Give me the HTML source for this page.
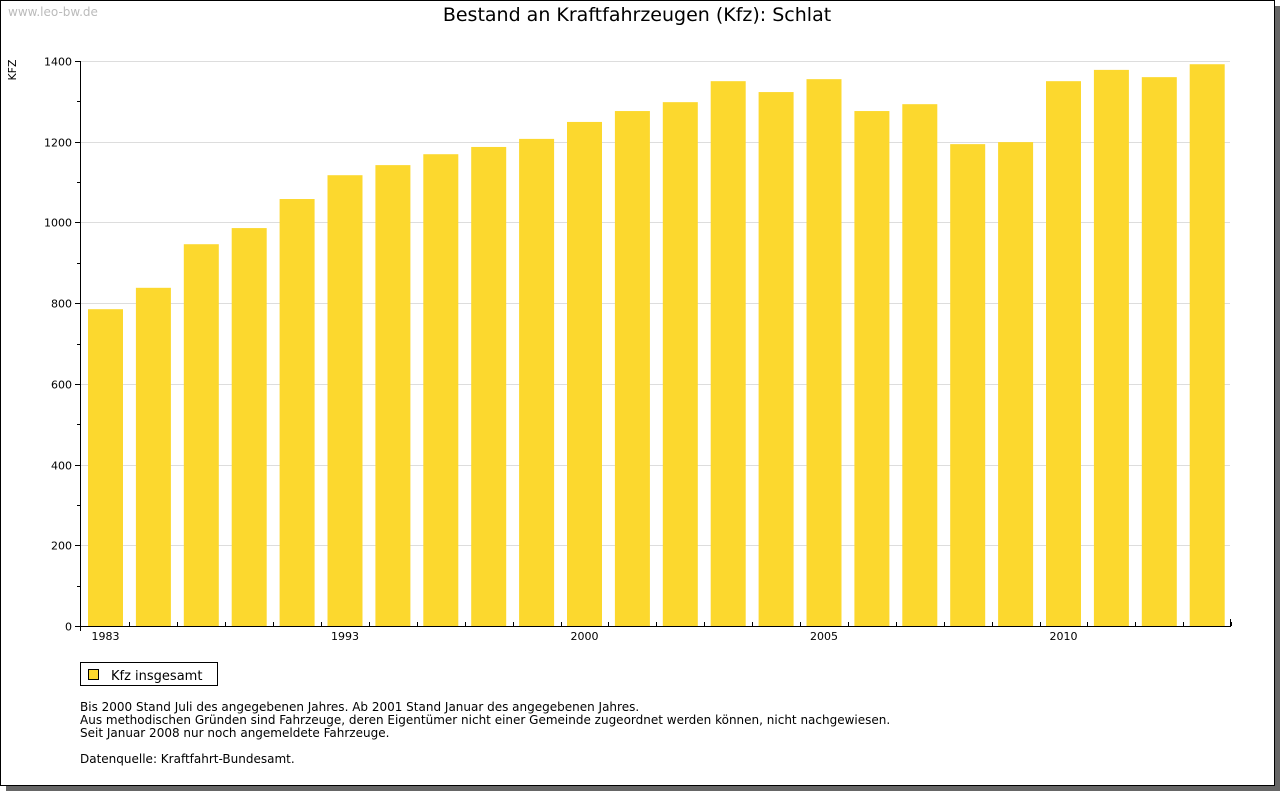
<!DOCTYPE html>
<html><head><meta charset="utf-8"><style>
body{margin:0;background:#fff;font-family:"DejaVu Sans","Liberation Sans",sans-serif;}
#wrap{position:relative;width:1280px;height:791px;overflow:hidden;}
#shadow{position:absolute;left:6px;top:6px;width:1274px;height:785px;background:#666;}
#frame{position:absolute;left:0;top:0;width:1273px;height:784px;background:#fff;border:1px solid #000;}
</style></head><body>
<div id="wrap">
<div id="shadow"></div>
<div id="frame"></div>
<svg id="chart" width="1280" height="791" style="position:absolute;left:0;top:0">
<text x="8" y="16" font-size="12" fill="#bbb">www.leo-bw.de</text>
<text x="637" y="21" font-size="19" text-anchor="middle" fill="#000">Bestand an Kraftfahrzeugen (Kfz): Schlat</text>
<text transform="translate(16,70) rotate(-90)" font-size="11" text-anchor="middle" fill="#000">KFZ</text>
<g id="grid"></g><g id="bars"></g><g id="axes"></g>
<rect x="88.5" y="669.5" width="10" height="10" fill="#FCD82E" stroke="#000" stroke-width="1"/>
<rect x="80.5" y="662.5" width="137" height="23" fill="none" stroke="#000"/>
<text x="111" y="680" font-size="13">Kfz insgesamt</text>
<g font-size="12" fill="#000">
<text x="80" y="711">Bis 2000 Stand Juli des angegebenen Jahres. Ab 2001 Stand Januar des angegebenen Jahres.</text>
<text x="80" y="724">Aus methodischen Gründen sind Fahrzeuge, deren Eigentümer nicht einer Gemeinde zugeordnet werden können, nicht nachgewiesen.</text>
<text x="80" y="737">Seit Januar 2008 nur noch angemeldete Fahrzeuge.</text>
<text x="80" y="763">Datenquelle: Kraftfahrt-Bundesamt.</text>
</g>
</svg>
</div>
<script>
const categories=["1983","1985","1987","1989","1991","1993","1995","1996","1997","1999","2000","2001","2002","2003","2004","2005","2006","2007","2008","2009","2010","2011","2012","2013"];
const shownLabels=["1983","1993","2000","2005","2010"];
const values=[785,838,946,986,1058,1117,1142,1169,1187,1207,1249,1276,1298,1350,1323,1355,1276,1293,1194,1199,1350,1378,1360,1392];
const yTicks=[0,200,400,600,800,1000,1200,1400];
const NS="http://www.w3.org/2000/svg";
const x0=80,x1=1230,y0=626,y1=61,yMax=1400;
const band=47.9,barW=35,firstX=88;
const xPos=i=>firstX+i*band;
const yPos=v=>y0-(v/yMax)*(y0-y1);
function mk(t,a,p){const e=document.createElementNS(NS,t);for(const k in a)e.setAttribute(k,a[k]);p.appendChild(e);return e;}
const grid=document.getElementById('grid'),bars=document.getElementById('bars'),axes=document.getElementById('axes');
yTicks.forEach(v=>{
  const y=Math.round(yPos(v))+0.5;
  if(v>0){const g=mk('line',{x1:x0,x2:x1,y1:y,y2:y,stroke:'#ddd'},grid);
  
  }
  const t=mk('text',{x:x0-8,y:y+4,'font-size':11,'text-anchor':'end'},axes);t.textContent=v;
  
  
  mk('line',{x1:x0-5,x2:x0,y1:y,y2:y,stroke:'#000'},axes);
  if(v<yMax){const ym=Math.round(yPos(v+100))+0.5;mk('line',{x1:x0-3,x2:x0,y1:ym,y2:ym,stroke:'#000'},axes);}
});
values.forEach((v,i)=>{
  const r=mk('rect',{x:xPos(i),y:yPos(v),width:barW,height:y0-yPos(v),fill:'#FCD82E'},bars);
  
  
  const tx=Math.round(xPos(i)+barW+(band-barW)/2)+0.5;
  mk('line',{x1:tx,x2:tx,y1:y0-4,y2:y0,stroke:'#000'},axes);
  if(shownLabels.includes(categories[i])){
    const t=mk('text',{x:xPos(i)+barW/2,y:y0+14,'font-size':11,'text-anchor':'middle'},axes);t.textContent=categories[i];
    
    
  }
});
const ya=mk('line',{x1:x0+0.5,x2:x0+0.5,y1:y1,y2:y0+1,stroke:'#000'},axes);


const xa=mk('line',{x1:x0,x2:x1+1,y1:y0+0.5,y2:y0+0.5,stroke:'#000'},axes);


mk('line',{x1:x1+0.5,x2:x1+0.5,y1:y0-7,y2:y0,stroke:'#000'},axes);
mk('line',{x1:x0+0.5,x2:x0+0.5,y1:y0-5,y2:y0+5,stroke:'#000'},axes);
</script>
</body></html>
